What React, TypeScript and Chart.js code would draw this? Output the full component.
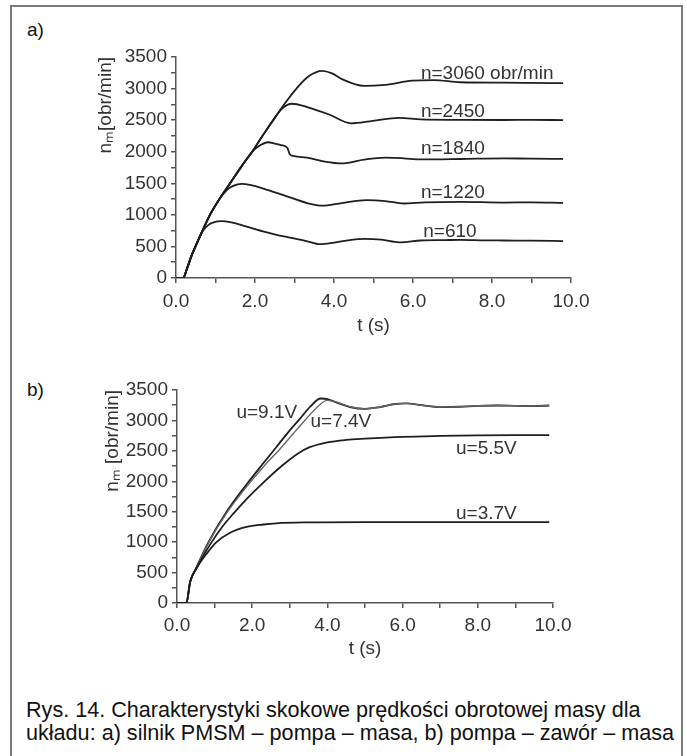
import React, { useEffect, useRef } from 'react';
import { Chart, registerables } from 'chart.js';
Chart.register(...registerables);

// ---------- Chart a) : silnik PMSM – pompa – masa ----------
const tA610 = [0, 0.18, 0.28, 0.38, 0.48, 0.65, 0.8, 0.95, 1.15, 1.4, 1.7, 2.2, 2.8, 3.3, 3.65, 4.0, 4.4, 4.76, 5.2, 5.65, 6.2, 6.8, 7.2, 7.8, 8.3, 9.0, 9.8];
const vA610 = [0, 0, 150, 330, 480, 720, 830, 880, 900, 880, 830, 740, 650, 585, 535, 560, 600, 620, 608, 565, 594, 600, 604, 596, 594, 592, 585];

const tA1220 = [0, 0.18, 0.28, 0.38, 0.48, 0.65, 0.86, 1.1, 1.3, 1.45, 1.66, 1.9, 2.21, 2.77, 3.32, 3.7, 4.2, 4.82, 5.3, 5.76, 6.3, 7.2, 8.3, 9.0, 9.8];
const vA1220 = [0, 0, 150, 330, 480, 720, 1000, 1250, 1400, 1460, 1490, 1470, 1417, 1302, 1187, 1145, 1187, 1232, 1219, 1180, 1198, 1206, 1195, 1198, 1190];

const tA1840 = [0, 0.18, 0.28, 0.38, 0.48, 0.65, 0.86, 1.1, 1.37, 1.65, 1.93, 2.1, 2.33, 2.5, 2.66, 2.82, 2.88, 2.99, 3.32, 3.77, 4.2, 4.76, 5.3, 5.76, 6.2, 7.2, 8.3, 9.0, 9.8];
const vA1840 = [0, 0, 150, 330, 480, 720, 1000, 1250, 1500, 1760, 2000, 2090, 2150, 2130, 2105, 2060, 1960, 1930, 1906, 1844, 1815, 1875, 1906, 1896, 1878, 1885, 1896, 1890, 1887];

const tA2450 = [0, 0.18, 0.28, 0.38, 0.48, 0.65, 0.86, 1.1, 1.37, 1.65, 1.93, 2.2, 2.46, 2.7, 2.93, 3.32, 3.88, 4.43, 4.98, 5.65, 6.2, 7.2, 8.3, 9.0, 9.8];
const vA2450 = [0, 0, 150, 330, 480, 720, 1000, 1250, 1500, 1760, 2000, 2260, 2500, 2690, 2760, 2708, 2589, 2450, 2490, 2536, 2512, 2505, 2502, 2505, 2500];

const tA3060 = [0, 0.18, 0.28, 0.38, 0.48, 0.65, 0.86, 1.1, 1.37, 1.65, 1.93, 2.2, 2.46, 2.75, 3.05, 3.35, 3.7, 3.95, 4.2, 4.76, 5.3, 5.98, 6.53, 7.2, 8.3, 9.0, 9.8];
const vA3060 = [0, 0, 150, 330, 480, 720, 1000, 1250, 1500, 1760, 2000, 2260, 2500, 2760, 3000, 3190, 3280, 3240, 3150, 3042, 3060, 3125, 3135, 3100, 3094, 3090, 3085];

const labelsA = ['n=3060 obr/min', 'n=2450', 'n=1840', 'n=1220', 'n=610'];
const labelTA = [6.2, 6.2, 6.2, 6.2, 6.26];
const labelVA = [3240, 2625, 2042, 1354, 740];

// ---------- Chart b) : pompa – zawór – masa ----------
const tB91 = [0, 0.25, 0.35, 0.5, 0.83, 1.31, 1.89, 2.3, 2.64, 2.95, 3.26, 3.55, 3.82, 4.0, 4.3, 4.6, 5.0, 5.4, 5.8, 6.1, 6.5, 7.0, 7.5, 8.0, 8.5, 9.0, 9.5, 9.9];
const vB91 = [0, 0, 350, 560, 990, 1490, 1980, 2300, 2560, 2800, 3020, 3230, 3360, 3350, 3280, 3220, 3190, 3220, 3270, 3280, 3250, 3220, 3225, 3240, 3245, 3240, 3235, 3245];

const tB74 = [0, 0.25, 0.35, 0.5, 0.83, 1.31, 1.89, 2.3, 2.75, 3.1, 3.4, 3.7, 4.0, 4.3, 4.6, 5.0, 5.4, 5.8, 6.1, 6.5, 7.0, 7.5, 8.0, 8.5, 9.0, 9.5, 9.9];
const vB74 = [0, 0, 350, 555, 980, 1470, 1940, 2240, 2540, 2790, 3000, 3200, 3330, 3290, 3225, 3190, 3220, 3270, 3280, 3250, 3220, 3225, 3240, 3245, 3240, 3235, 3245];

const tB55 = [0, 0.25, 0.35, 0.5, 0.9, 1.2, 1.53, 1.9, 2.33, 2.8, 3.2, 3.53, 4.0, 4.5, 5.0, 6.0, 7.0, 8.0, 9.0, 9.9];
const vB55 = [0, 0, 350, 550, 980, 1250, 1490, 1740, 2000, 2260, 2450, 2560, 2640, 2680, 2700, 2730, 2745, 2755, 2760, 2760];

const tB37 = [0, 0.25, 0.35, 0.55, 0.8, 1.05, 1.4, 1.85, 2.3, 2.64, 3.5, 5.0, 7.0, 9.9];
const vB37 = [0, 0, 350, 600, 820, 1000, 1150, 1250, 1290, 1310, 1325, 1330, 1330, 1330];

const labelsB = ['u=9.1V', 'u=7.4V', 'u=5.5V', 'u=3.7V'];
const labelTB = [1.58, 3.55, 7.42, 7.42];
const labelVB = [3120, 2980, 2530, 1470];

const xTicks = ['0.0', '2.0', '4.0', '6.0', '8.0', '10.0'];

const FONT = '"Liberation Sans", Arial, sans-serif';
const TXT = '#333';
const AX = '#555';
const LINE = '#1e1e1e';

function toPts(t: number[], v: number[]) {
  return t.map((x, i) => ({ x, y: v[i] }));
}

function labelPlugin(texts: string[], ts: number[], vs: number[]) {
  return {
    id: 'curveLabels',
    afterDatasetsDraw(chart: any) {
      const { ctx, scales } = chart;
      ctx.save();
      ctx.font = `19px ${FONT}`;
      ctx.fillStyle = TXT;
      ctx.textAlign = 'left';
      ctx.textBaseline = 'middle';
      texts.forEach((s, i) => {
        ctx.fillText(s, scales.x.getPixelForValue(ts[i]), scales.y.getPixelForValue(vs[i]));
      });
      ctx.restore();
    },
  };
}

function makeConfig(opts: any) {
  const font = { family: FONT, size: 19 };
  return {
    type: 'line',
    data: {
      datasets: opts.series.map((s: any) => ({
        data: s.pts,
        borderColor: s.color || LINE,
        borderWidth: s.width || 1.8,
        pointRadius: 0,
        fill: false,
        cubicInterpolationMode: 'monotone',
      })),
    },
    options: {
      animation: false,
      responsive: false,
      maintainAspectRatio: false,
      layout: { padding: { left: 0, right: opts.padRight, top: opts.padTop, bottom: 0 } },
      plugins: { legend: { display: false }, tooltip: { enabled: false } },
      scales: {
        x: {
          type: 'linear',
          min: 0,
          max: 10,
          afterFit: (s: any) => { s.height = opts.xHeight; },
          ticks: {
            stepSize: 1,
            autoSkip: false,
            maxRotation: 0,
            font,
            color: TXT,
            padding: opts.xPad,
            callback: (v: number) => (Math.round(v) % 2 === 0 ? xTicks[Math.round(v) / 2] : ''),
          },
          grid: { display: true, drawOnChartArea: false, drawTicks: true, tickLength: 5, color: AX, lineWidth: 1.5 },
          border: { display: true, color: AX, width: 1.5 },
          title: { display: true, text: 't (s)', font, color: TXT, padding: { top: 0, bottom: opts.xTitlePad } },
        },
        y: {
          min: 0,
          max: 3500,
          afterFit: (s: any) => { s.width = opts.yWidth; },
          ticks: {
            stepSize: 250,
            autoSkip: false,
            font,
            color: TXT,
            padding: 4,
            callback: (v: number) => (v % 500 === 0 ? String(v) : ''),
          },
          grid: { display: true, drawOnChartArea: false, drawTicks: true, tickLength: 5, color: AX, lineWidth: 1.5 },
          border: { display: true, color: AX, width: 1.5 },
          title: { display: true, text: opts.yTitle, align: 'end', font, color: TXT, padding: { top: opts.yTitlePad, bottom: 0 } },
        },
      },
    },
    plugins: [labelPlugin(opts.labels, opts.labelT, opts.labelV)],
  };
}

function ChartCanvas({ config, style }: { config: any; style: React.CSSProperties }) {
  const ref = useRef<HTMLCanvasElement>(null);
  useEffect(() => {
    if (!ref.current) return;
    const c = new Chart(ref.current, config);
    return () => c.destroy();
  }, []);
  return <canvas ref={ref} width={600} height={305} style={{ position: 'absolute', ...style }} />;
}

export default function App() {
  const configA = makeConfig({
    series: [
      { pts: toPts(tA610, vA610) },
      { pts: toPts(tA1220, vA1220) },
      { pts: toPts(tA1840, vA1840) },
      { pts: toPts(tA2450, vA2450) },
      { pts: toPts(tA3060, vA3060) },
    ],
    padRight: 49,
    padTop: 17,
    xHeight: 67,
    yWidth: 156,
    xPad: 7,
    xTitlePad: 8,
    yTitle: 'nₘ[obr/min]',
    yTitlePad: 74,
    labels: labelsA,
    labelT: labelTA,
    labelV: labelVA,
  });
  const configB = makeConfig({
    series: [
      { pts: toPts(tB37, vB37) },
      { pts: toPts(tB55, vB55) },
      { pts: toPts(tB74, vB74), color: '#666', width: 1.4 },
      { pts: toPts(tB91, vB91) },
    ],
    padRight: 67,
    padTop: 20,
    xHeight: 72,
    yWidth: 157,
    xPad: 6,
    xTitlePad: 15,
    yTitle: 'nₘ [obr/min]',
    yTitlePad: 81,
    labels: labelsB,
    labelT: labelTB,
    labelV: labelVB,
  });

  return (
    <div style={{ position: 'absolute', left: 0, top: 0, width: 687, height: 756, background: '#fff', overflow: 'hidden', fontFamily: FONT }}>
      <div style={{ position: 'absolute', left: 10, top: 5, width: 669, height: 800, borderLeft: '2px solid #7a7a7a', borderTop: '2px solid #7a7a7a', borderRight: '2px solid #7a7a7a' }} />
      <div style={{ position: 'absolute', left: 27, top: 19, fontSize: 19, color: '#111' }}>a)</div>
      <div style={{ position: 'absolute', left: 27, top: 379, fontSize: 19, color: '#111' }}>b)</div>
      <ChartCanvas config={configA} style={{ left: 20, top: 40 }} />
      <ChartCanvas config={configB} style={{ left: 20, top: 370 }} />
      <div style={{ position: 'absolute', left: 26, top: 698, fontSize: 21.6, lineHeight: '23px', color: '#111', whiteSpace: 'nowrap' }}>
        Rys. 14. Charakterystyki skokowe prędkości obrotowej masy dla
        <br />
        układu: a) silnik PMSM – pompa – masa, b) pompa – zawór – masa
      </div>
    </div>
  );
}
